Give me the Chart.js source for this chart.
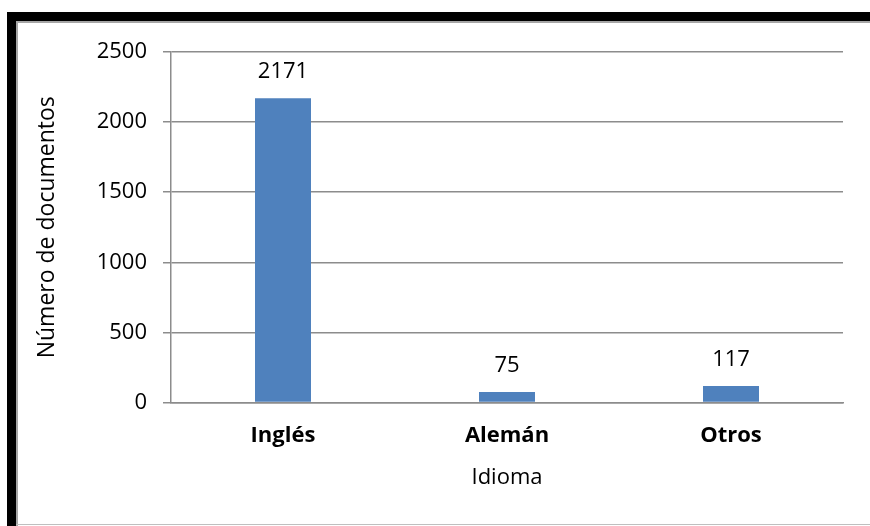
<!DOCTYPE html>
<html>
<head>
<meta charset="utf-8">
<script src="https://cdn.jsdelivr.net/npm/chart.js@4/dist/chart.umd.min.js"></script>
<style>
  html, body { margin: 0; padding: 0; background: #fff; }
  #wrap { position: relative; width: 870px; height: 526px; }
  canvas { display: block; }
</style>
</head>
<body>
<div id="wrap"><canvas id="c" width="870" height="526"></canvas></div>
<script>
const categories = ['Inglés', 'Alemán', 'Otros'];
const documentos = [2171, 75, 117];
const yTicks = [0, 500, 1000, 1500, 2000, 2500];
const yTitle = 'Número de documentos';
const xTitle = 'Idioma';

const FONT = "'Open Sans', 'DejaVu Sans', sans-serif";

const framePlugin = {
  id: 'frame',
  beforeDraw(chart) {
    const ctx = chart.ctx;
    ctx.save();
    ctx.fillStyle = '#ffffff';
    ctx.fillRect(0, 0, chart.width, chart.height);
    ctx.fillStyle = '#000000';
    ctx.fillRect(7, 12, chart.width - 7, 9);
    ctx.fillRect(7, 12, 9, chart.height - 12);
    ctx.fillStyle = '#a6a6a6';
    ctx.fillRect(16, 21, chart.width - 16, 2);
    ctx.fillRect(16, 21, 2, chart.height - 21);
    ctx.fillStyle = '#bfbfbf';
    ctx.fillRect(16, 524, chart.width - 16, 1);
    ctx.restore();
  }
};

const valueLabels = {
  id: 'valueLabels',
  afterDatasetsDraw(chart) {
    const ctx = chart.ctx;
    const meta = chart.getDatasetMeta(0);
    ctx.save();
    ctx.font = "22px " + FONT;
    ctx.fillStyle = '#000';
    ctx.textAlign = 'center';
    ctx.textBaseline = 'alphabetic';
    meta.data.forEach((bar, i) => {
      ctx.fillText(String(chart.data.datasets[0].data[i]), bar.x, bar.y - 20);
    });
    ctx.restore();
  }
};

new Chart(document.getElementById('c'), {
  type: 'bar',
  data: {
    labels: categories,
    datasets: [{
      data: documentos,
      backgroundColor: '#4f81bd',
      borderWidth: 0,
      barPercentage: 0.25,
      categoryPercentage: 1.0
    }]
  },
  options: {
    responsive: false,
    animation: false,
    devicePixelRatio: 1,
    layout: { padding: { top: 52, right: 27, bottom: 0, left: 0 } },
    plugins: {
      legend: { display: false },
      tooltip: { enabled: false }
    },
    scales: {
      x: {
        grid: { display: false, drawTicks: false },
        border: { display: true, color: '#8c8c8c', width: 1.5 },
        ticks: {
          color: '#000',
          font: { family: FONT, size: 22, weight: 'bold' },
          padding: 20
        },
        title: {
          display: true,
          text: xTitle,
          color: '#000',
          font: { family: FONT, size: 22 },
          padding: { top: 0, bottom: 35 }
        },
        afterFit(s) { s.height = 123.5; }
      },
      y: {
        min: 0,
        max: 2500,
        afterBuildTicks(s) { s.ticks = yTicks.map(v => ({ value: v })); },
        grid: {
          color: '#8c8c8c',
          lineWidth: 1.5,
          drawTicks: true,
          tickLength: 8,
          tickColor: '#8c8c8c'
        },
        border: { display: true, color: '#8c8c8c', width: 1.5 },
        ticks: {
          color: '#000',
          font: { family: FONT, size: 22 },
          padding: 16,
          callback: (v) => String(v)
        },
        title: {
          display: true,
          text: yTitle,
          color: '#000',
          font: { family: FONT, size: 23 },
          padding: { top: 34, bottom: 0 }
        },
        afterFit(s) { s.width = 171; }
      }
    }
  },
  plugins: [framePlugin, valueLabels]
});
</script>
</body>
</html>
